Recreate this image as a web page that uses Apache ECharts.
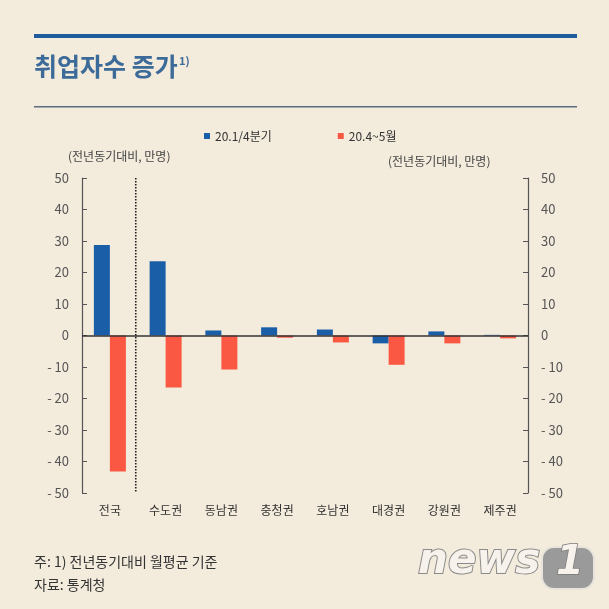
<!DOCTYPE html>
<html>
<head>
<meta charset="utf-8">
<script src="https://cdn.jsdelivr.net/npm/echarts@6/dist/echarts.min.js"></script>
<style>
    html, body { margin: 0; padding: 0; background: #f3ebdc; }
    #chart { width: 609px; height: 609px; }
</style>
</head>
<body>
<div id="chart"></div>
<script>
    // 권역별 취업자수 증감 (전년동기대비, 만명)
    var regions = ['전국', '수도권', '동남권', '충청권', '호남권', '대경권', '강원권', '제주권'];
    var q1Values = [28.7, 23.6, 1.6, 2.6, 1.9, -2.5, 1.3, 0.2];
    var aprMayValues = [-43.2, -16.5, -10.8, -0.7, -2.2, -9.3, -2.5, -0.9];
    var seriesNames = ['20.1/4분기', '20.4~5월'];
    var yTicks = { min: -50, max: 50, interval: 10 };

    var font = '"Noto Sans CJK KR", "Noto Sans", sans-serif';

    function tickLabel(v) {
        return v < 0 ? '- ' + Math.abs(v) : String(v);
    }

    function yAxisOf(pos) {
        return {
            type: 'value',
            position: pos,
            min: yTicks.min,
            max: yTicks.max,
            interval: yTicks.interval,
            axisLine: { show: true, lineStyle: { color: '#555', width: 1.2 } },
            axisTick: { show: true, inside: true, length: 5, lineStyle: { color: '#555' } },
            axisLabel: { color: '#555', fontSize: 13, fontFamily: font, margin: 13, formatter: tickLabel },
            splitLine: { show: false }
        };
    }

    var chart = echarts.init(document.getElementById('chart'));
    var staticGraphics = [
        { type: 'rect', shape: { x: 34, y: 34, width: 543, height: 4 }, style: { fill: '#1f5c9e' } },
        { type: 'text', x: 34, y: 54, style: { text: '취업자수 증가', fill: '#3d6b99', font: 'bold 25px ' + font } },
        { type: 'text', x: 179, y: 55, style: { text: '1)', fill: '#3d6b99', font: 'bold 11px ' + font } },
        { type: 'rect', shape: { x: 34, y: 106, width: 543, height: 1.5 }, style: { fill: '#5c6b7f' } },
        { type: 'text', x: 68, y: 150, style: { text: '(전년동기대비, 만명)', fill: '#444', font: '12px ' + font } },
        { type: 'text', x: 388, y: 155, style: { text: '(전년동기대비, 만명)', fill: '#444', font: '12px ' + font } },
        { type: 'text', x: 34, y: 555, style: { text: '주: 1) 전년동기대비 월평균 기준', fill: '#333', font: '14px ' + font } },
        { type: 'text', x: 34, y: 578, style: { text: '자료: 통계청', fill: '#333', font: '14px ' + font } },
        {
            type: 'text', x: 418, y: 541,
            style: {
                text: 'news',
                fill: '#f7f3ec',
                stroke: '#8a8a8a',
                lineWidth: 2,
                font: 'italic bold 42px "DejaVu Sans", sans-serif'
            }
        },
        {
            type: 'rect',
            shape: { x: 542, y: 547, width: 52, height: 42, r: 12 },
            style: { fill: '#9a9a9a', stroke: '#e8e4dc', lineWidth: 2 }
        },
        {
            type: 'text', x: 556, y: 544,
            style: {
                text: '1',
                fill: '#f7f3ec',
                stroke: '#7a7a7a',
                lineWidth: 1.5,
                font: 'italic bold 40px "DejaVu Sans", sans-serif'
            }
        }
    ];

    chart.setOption({
        backgroundColor: '#f3ebdc',
        animation: false,
        textStyle: { fontFamily: font },
        legend: {
            data: seriesNames,
            left: 199,
            top: 125,
            icon: 'rect',
            itemWidth: 6,
            itemHeight: 6,
            itemGap: 66,
            textStyle: { color: '#333', fontSize: 12, fontFamily: font }
        },
        grid: { left: 82, right: 81, top: 178, bottom: 116 },
        xAxis: {
            type: 'category',
            data: regions,
            axisLine: { show: false, onZero: false },
            axisTick: { show: false },
            axisLabel: { color: '#333', fontSize: 12, fontFamily: font, margin: 11 },
            splitLine: { show: false }
        },
        yAxis: [yAxisOf('left'), yAxisOf('right')],
        series: [
            {
                name: seriesNames[0],
                type: 'bar',
                data: q1Values,
                barWidth: 16,
                barGap: '0%',
                itemStyle: { color: '#1b5ea8' },
                markLine: {
                    silent: true,
                    symbol: 'none',
                    label: { show: false },
                    lineStyle: { color: '#333', width: 1.5, type: 'solid' },
                    data: [{ yAxis: 0 }]
                }
            },
            {
                name: seriesNames[1],
                type: 'bar',
                data: aprMayValues,
                barWidth: 16,
                itemStyle: { color: '#fb5843' }
            }
        ],
        graphic: staticGraphics
    });

    // 전국과 권역 사이 점선: 축 스케일로 위치 계산
    var xA = chart.convertToPixel({ xAxisIndex: 0 }, regions[0]);
    var xB = chart.convertToPixel({ xAxisIndex: 0 }, regions[1]);
    var yTop = chart.convertToPixel({ yAxisIndex: 0 }, yTicks.max);
    var yBot = chart.convertToPixel({ yAxisIndex: 0 }, yTicks.min);
    var xSep = (xA + xB) / 2 - 2;
    chart.setOption({
        graphic: staticGraphics.concat([{
            type: 'line',
            shape: { x1: xSep, y1: yTop, x2: xSep, y2: yBot },
            style: { stroke: '#222', lineWidth: 1.6, lineDash: [1.5, 1.5] },
            z: 10
        }])
    });
</script>
</body>
</html>
